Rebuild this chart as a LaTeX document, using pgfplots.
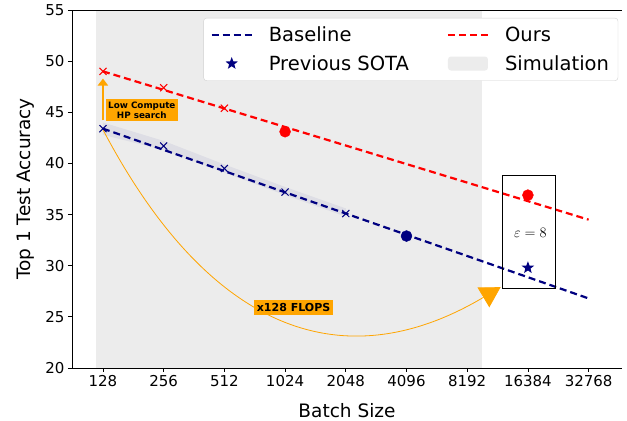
\documentclass[border=0pt]{standalone}
\usepackage[no-math]{fontspec}
\setmainfont{DejaVu Sans}
\usepackage{pgfplots}
\pgfplotsset{compat=1.18}
\usetikzlibrary{arrows.meta}

\definecolor{navyb}{RGB}{0,0,128}
\definecolor{simgray}{RGB}{236,236,236}
\definecolor{orng}{RGB}{255,165,0}

% filled five-point star
\pgfdeclareplotmark{fstar}{%
  \pgfpathmoveto{\pgfpointpolar{90}{\pgfplotmarksize}}%
  \pgfpathlineto{\pgfpointpolar{126}{0.42\pgfplotmarksize}}%
  \pgfpathlineto{\pgfpointpolar{162}{\pgfplotmarksize}}%
  \pgfpathlineto{\pgfpointpolar{198}{0.42\pgfplotmarksize}}%
  \pgfpathlineto{\pgfpointpolar{234}{\pgfplotmarksize}}%
  \pgfpathlineto{\pgfpointpolar{270}{0.42\pgfplotmarksize}}%
  \pgfpathlineto{\pgfpointpolar{306}{\pgfplotmarksize}}%
  \pgfpathlineto{\pgfpointpolar{342}{0.42\pgfplotmarksize}}%
  \pgfpathlineto{\pgfpointpolar{18}{\pgfplotmarksize}}%
  \pgfpathlineto{\pgfpointpolar{54}{0.42\pgfplotmarksize}}%
  \pgfpathclose\pgfusepathqfill}

\begin{document}
\begin{tikzpicture}
\begin{axis}[
  scale only axis, width=550pt, height=358pt,
  xmin=-0.51, xmax=8.55, ymin=20, ymax=55,
  axis x line*=bottom, axis y line*=left,
  axis line style={-, line width=0.8pt},
  xtick={0,...,8},
  xticklabels={128,256,512,1024,2048,4096,8192,16384,32768},
  ytick={20,25,...,55},
  tick align=outside, major tick length=4pt,
  tick style={black, line width=0.8pt},
  ticklabel style={font=\fontsize{15}{17}\selectfont},
  /pgf/number format/assume math mode=true,
  xlabel={Batch Size}, ylabel={Top 1 Test Accuracy},
  label style={font=\fontsize{18.5}{21}\selectfont},
  xlabel style={at={(axis description cs:0.5,-0.137)}, anchor=base},
  ylabel style={at={(axis description cs:-0.076,0.5)}, anchor=base},
  legend columns=2,
  legend cell align=left,
  legend style={at={(0.993,0.978)}, anchor=north east,
    draw=black!18, rounded corners=3pt, fill=white,
    font=\fontsize{19.5}{22}\selectfont, inner xsep=7pt, inner ysep=7pt,
    /tikz/every odd column/.append style={column sep=14pt},
    /tikz/every even column/.append style={column sep=36pt},
    row sep=8pt},
]

% simulation region
\addplot[fill=simgray, draw=none, forget plot] coordinates {(-0.11,20) (6.24,20) (6.24,55) (-0.11,55)} -- cycle;

% std band of baseline
\addplot[fill=navyb, fill opacity=0.06, draw=none, forget plot] coordinates {
  (0,44.0) (1,42.2) (2,39.9) (3,37.7) (4,35.6)
  (4,34.8) (3,36.9) (2,39.1) (1,41.3) (0,42.8)} -- cycle;

% fitted lines
\addplot[navyb, line width=2.2pt, dash pattern=on 7pt off 4pt, forget plot] coordinates {(0,43.4) (8,26.8)};
\addplot[red, line width=2.2pt, dash pattern=on 7pt off 4pt, forget plot] coordinates {(0,49.0) (8,34.5)};

% measured points
\addplot[navyb, only marks, mark=x, mark size=5pt, line width=1pt, forget plot] coordinates {
  (0,43.4) (1,41.7) (2,39.5) (3,37.2) (4,35.1)};
\addplot[red, only marks, mark=x, mark size=5pt, line width=1pt, forget plot] coordinates {
  (0,49.0) (1,47.4) (2,45.4)};
\addplot[red, only marks, mark=*, mark size=5.5pt, forget plot] coordinates {(3,43.1) (7,36.9)};
\addplot[navyb, only marks, mark=*, mark size=5.5pt, forget plot] coordinates {(5,32.9)};
\addplot[navyb, only marks, mark=fstar, mark size=6.5pt, forget plot] coordinates {(7,29.8)};

% annotations
\draw[orng, line width=2.6pt, -{Triangle[length=7pt,width=10pt]}] (axis cs:0,44.2) -- (axis cs:0,48.3);
\node[fill=orng, inner sep=2.5pt, align=center, font=\bfseries\fontsize{8.8}{10.5}\selectfont]
  at (axis cs:0.64,45.2) {Low Compute\\HP search};
\draw[orng, line width=0.8pt, -{Triangle[length=20pt,width=23pt]}]
  (axis cs:0,43.3) .. controls (axis cs:1.72,23.9) and (axis cs:3.91,18.6) .. (axis cs:6.55,27.9);
\node[fill=orng, inner sep=3pt, font=\bfseries\fontsize{11}{13}\selectfont]
  at (axis cs:3.14,25.9) {x128 FLOPS};
\draw[black, line width=0.8pt] (axis cs:6.58,27.82) rectangle (axis cs:7.46,38.87);
\node at (axis cs:7.04,33.2) {\fontsize{14.5}{16}\selectfont$\varepsilon=8$};

% legend
\addlegendimage{legend image code/.code={\draw[navyb, line width=2.2pt, dash pattern=on 7pt off 4pt] (0pt,0pt) -- (40pt,0pt);}}
\addlegendentry{Baseline}
\addlegendimage{legend image code/.code={\draw[red, line width=2.2pt, dash pattern=on 7pt off 4pt] (0pt,0pt) -- (40pt,0pt);}}
\addlegendentry{Ours}
\addlegendimage{legend image code/.code={\path[draw=none] (0pt,0pt) (40pt,0pt);
  \begin{scope}[shift={(20pt,0pt)}]\pgfsetfillcolor{navyb}\pgfsetplotmarksize{6.5pt}\pgfuseplotmark{fstar}\end{scope}}}
\addlegendentry{Previous SOTA}
\addlegendimage{legend image code/.code={\fill[simgray, draw=none] (0pt,-7pt) rectangle (40pt,7pt);}}
\addlegendentry{Simulation}

\coordinate (LL) at (rel axis cs:0,0);
\coordinate (UR) at (rel axis cs:1,1);
\end{axis}
\draw[line width=0.8pt] (LL|-UR) -- (UR);
\pgfresetboundingbox
\useasboundingbox ([shift={(-72pt,-53pt)}]LL) rectangle ([shift={(5pt,10pt)}]UR);
\end{tikzpicture}
\end{document}
